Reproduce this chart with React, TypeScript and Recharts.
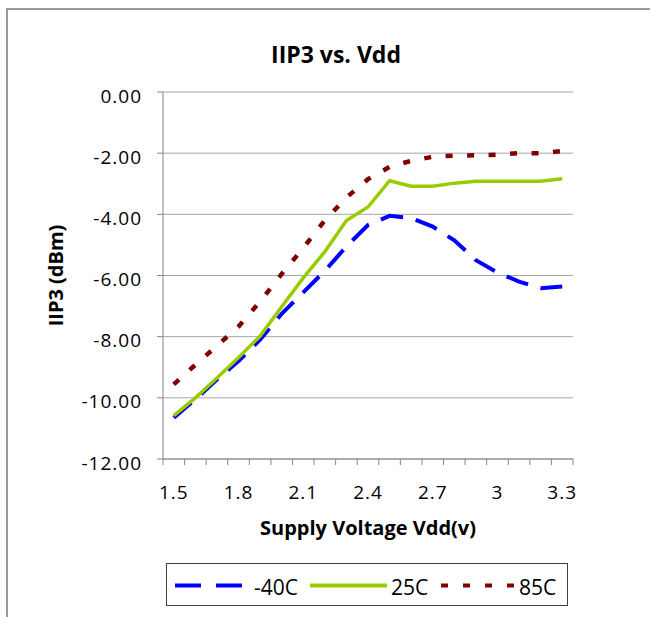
import { LineChart, Line, XAxis, YAxis, CartesianGrid, Legend } from "recharts";

// supply voltage categories (V)
const voltages = [1.5, 1.6, 1.7, 1.8, 1.9, 2.0, 2.1, 2.2, 2.3, 2.4, 2.5, 2.6, 2.7, 2.8, 2.9, 3.0, 3.1, 3.2, 3.3];

// IIP3 (dBm) per temperature
const iip3Minus40 = [-10.65, -10.05, -9.4, -8.8, -8.1, -7.25, -6.55, -5.85, -5.05, -4.35, -4.05, -4.12, -4.4, -4.85, -5.5, -5.9, -6.2, -6.42, -6.36];
const iip3At25 = [-10.58, -10.0, -9.35, -8.68, -7.98, -7.02, -6.08, -5.22, -4.2, -3.76, -2.9, -3.08, -3.08, -2.98, -2.92, -2.92, -2.92, -2.92, -2.84];
const iip3At85 = [-9.56, -8.92, -8.3, -7.67, -6.85, -5.95, -5.1, -4.2, -3.45, -2.85, -2.45, -2.25, -2.12, -2.08, -2.07, -2.05, -2.0, -2.0, -1.93];

const xTickLabels = ["1.5", "1.8", "2.1", "2.4", "2.7", "3", "3.3"];
const yTicks = [0, -2, -4, -6, -8, -10, -12];

const data = voltages.map((v, i) => ({
  vdd: v,
  m40: iip3Minus40[i],
  t25: iip3At25[i],
  t85: iip3At85[i],
}));

// excel-style category axis: tick marks between categories, labels on centres
const xTicks: number[] = [];
voltages.forEach((v) => {
  xTicks.push(+(v - 0.05).toFixed(2));
  xTicks.push(v);
});
xTicks.push(+(voltages[voltages.length - 1] + 0.05).toFixed(2));

const FONT = "'Open Sans', sans-serif";
const AXIS_GRAY = "#868686";

const XTick = ({ x, y, payload }: any) => {
  const val = payload.value;
  const isCentre = voltages.some((v) => Math.abs(v - val) < 1e-6);
  if (!isCentre) {
    return <line x1={x} x2={x} y1={y} y2={y + 6} stroke={AXIS_GRAY} strokeWidth={1} />;
  }
  const lbl = xTickLabels.find((l) => Math.abs(Number(l) - val) < 1e-6);
  if (!lbl) return <g />;
  return (
    <text x={x} y={y + 40} textAnchor="middle" fontFamily={FONT} fontSize={19} letterSpacing={1} fill="#000">
      {lbl}
    </text>
  );
};

const YTick = ({ x, y, payload }: any) => (
  <text x={x} y={y + 10.5} textAnchor="end" fontFamily={FONT} fontSize={19} letterSpacing={1} fill="#000">
    {Number(payload.value).toFixed(2)}
  </text>
);

const legendLayout: Record<string, { sx: number; sw: number; tx: number; dash?: string }> = {
  m40: { sx: 9, sw: 67, tx: 88, dash: "26 15" },
  t25: { sx: 144, sw: 77, tx: 225 },
  t85: { sx: 275, sw: 73, tx: 353, dash: "7 15" },
};

const renderLegend = (props: any) => {
  const { payload = [] } = props;
  return (
    <svg width={402} height={43} style={{ display: "block" }}>
      <rect x={0.5} y={0.5} width={401} height={42} fill="#fff" stroke="#404040" />
      {payload.map((entry: any) => {
        const pos = legendLayout[entry.dataKey];
        if (!pos) return null;
        return (
          <g key={entry.dataKey}>
            <line
              x1={pos.sx}
              x2={pos.sx + pos.sw}
              y1={22.5}
              y2={22.5}
              stroke={entry.color}
              strokeWidth={4}
              strokeDasharray={pos.dash}
            />
            <text x={pos.tx} y={32} fontFamily={FONT} fontSize={21} fill="#000">
              {entry.value}
            </text>
          </g>
        );
      })}
    </svg>
  );
};

const App = () => {
  return (
    <div
      style={{
        position: "absolute",
        left: 0,
        top: 0,
        width: 650,
        height: 617,
        overflow: "hidden",
        background: "#fff",
      }}
    >
      <div
        style={{
          position: "absolute",
          left: 6,
          top: 8,
          width: 700,
          height: 700,
          border: "2px solid #9a9a9a",
          boxSizing: "border-box",
        }}
      />
      <svg width={650} height={80} style={{ position: "absolute", left: 0, top: 0 }}>
        <text x={336} y={63} textAnchor="middle" fontFamily={FONT} fontWeight="bold" fontSize={23} fill="#000">
          IIP3 vs. Vdd
        </text>
      </svg>
      <div style={{ position: "absolute", left: 0, top: 0 }}>
        <LineChart width={650} height={617} data={data} margin={{ top: 92, right: 77, bottom: 78, left: 0 }}>
          <CartesianGrid vertical={false} stroke="#a6a6a6" strokeWidth={1} />
          <XAxis
            dataKey="vdd"
            type="number"
            domain={[xTicks[0], xTicks[xTicks.length - 1]]}
            ticks={xTicks}
            interval={0}
            tickLine={false}
            tickSize={0}
            tickMargin={0}
            height={80}
            axisLine={{ stroke: AXIS_GRAY }}
            tick={<XTick />}
            label={{
              content: ({ viewBox }: any) => (
                <text
                  x={viewBox.x + viewBox.width / 2}
                  y={viewBox.y + 76}
                  textAnchor="middle"
                  fontFamily={FONT}
                  fontWeight="bold"
                  fontSize={20}
                  fill="#000"
                >
                  Supply Voltage Vdd(v)
                </text>
              ),
            }}
          />
          <YAxis
            type="number"
            domain={[-12, 0]}
            ticks={yTicks}
            interval={0}
            width={163}
            tickSize={6}
            tickMargin={15}
            axisLine={{ stroke: AXIS_GRAY }}
            tickLine={{ stroke: AXIS_GRAY }}
            tick={<YTick />}
            label={{
              content: ({ viewBox }: any) => {
                const cx = viewBox.x + 63;
                const cy = viewBox.y + viewBox.height / 2;
                return (
                  <text
                    x={cx}
                    y={cy}
                    transform={`rotate(-90, ${cx}, ${cy})`}
                    textAnchor="middle"
                    fontFamily={FONT}
                    fontWeight="bold"
                    fontSize={20}
                    fill="#000"
                  >
                    IIP3 (dBm)
                  </text>
                );
              },
            }}
          />
          <Legend
            layout="horizontal"
            verticalAlign="middle"
            align="center"
            wrapperStyle={{ position: "absolute", left: 166, top: 563, width: 402, height: 43 }}
            content={renderLegend}
          />
          <Line
            name="-40C"
            dataKey="m40"
            type="linear"
            stroke="#0000ff"
            strokeWidth={4}
            strokeDasharray="23 13"
            dot={false}
            activeDot={false}
            isAnimationActive={false}
          />
          <Line
            name="25C"
            dataKey="t25"
            type="linear"
            stroke="#99cc00"
            strokeWidth={3.5}
            dot={false}
            activeDot={false}
            isAnimationActive={false}
          />
          <Line
            name="85C"
            dataKey="t85"
            type="linear"
            stroke="#800000"
            strokeWidth={4.5}
            strokeDasharray="7 14.5"
            dot={false}
            activeDot={false}
            isAnimationActive={false}
          />
        </LineChart>
      </div>
    </div>
  );
};

export default App;
